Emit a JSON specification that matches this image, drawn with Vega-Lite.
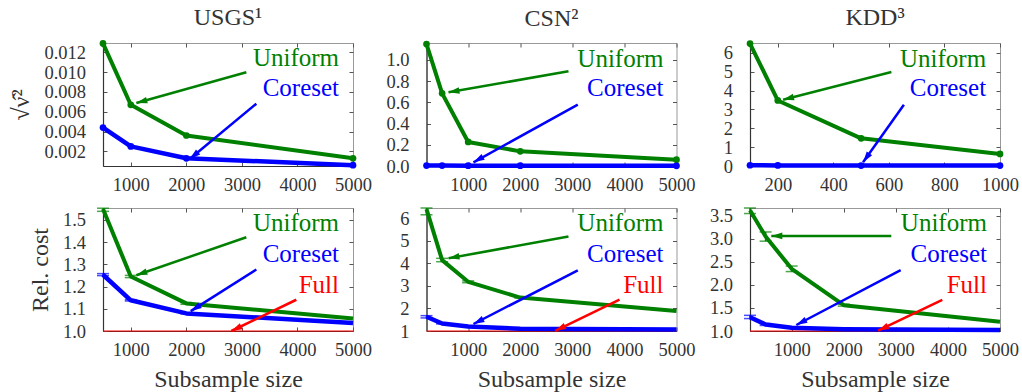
{
  "$schema": "https://vega.github.io/schema/vega-lite/v6.json",
  "padding": {"left": 9, "top": 5, "right": 5, "bottom": 0},
  "background": "white",
  "config": {
    "font": "Liberation Serif",
    "view": {"stroke": "#999", "strokeWidth": 1},
    "axis": {"labelFont": "Liberation Serif", "labelFontSize": 18.5, "labelColor": "#333", "labelOverlap": false, "labelFlush": false, "titleFont": "Liberation Serif", "titleFontSize": 24, "titleFontWeight": "normal", "titleColor": "#333", "tickSize": -4, "tickColor": "#555", "grid": false, "domainColor": "#333", "domainWidth": 1.2},
    "axisX": {"labelPadding": 13.5, "titlePadding": 8},
    "axisY": {"labelPadding": 21.5, "titlePadding": 10},
    "title": {"font": "Liberation Serif", "fontSize": 24, "fontWeight": "normal", "color": "#333", "offset": 10},
    "text": {"font": "Liberation Serif"}
  },
  "datasets": {
    "curves": [
      {"p": 1, "m": "Uniform", "n": 500, "v": 0.0129}, {"p": 1, "m": "Uniform", "n": 1000, "v": 0.0067}, {"p": 1, "m": "Uniform", "n": 2000, "v": 0.0036}, {"p": 1, "m": "Uniform", "n": 5000, "v": 0.0013},
      {"p": 1, "m": "Coreset", "n": 500, "v": 0.0044}, {"p": 1, "m": "Coreset", "n": 1000, "v": 0.0025}, {"p": 1, "m": "Coreset", "n": 2000, "v": 0.0013}, {"p": 1, "m": "Coreset", "n": 5000, "v": 0.0006},
      {"p": 2, "m": "Uniform", "n": 200, "v": 1.15}, {"p": 2, "m": "Uniform", "n": 500, "v": 0.685}, {"p": 2, "m": "Uniform", "n": 1000, "v": 0.227}, {"p": 2, "m": "Uniform", "n": 2000, "v": 0.138}, {"p": 2, "m": "Uniform", "n": 5000, "v": 0.06},
      {"p": 2, "m": "Coreset", "n": 200, "v": 0.004}, {"p": 2, "m": "Coreset", "n": 500, "v": 0.004}, {"p": 2, "m": "Coreset", "n": 1000, "v": 0.003}, {"p": 2, "m": "Coreset", "n": 2000, "v": 0.003}, {"p": 2, "m": "Coreset", "n": 5000, "v": 0.002},
      {"p": 3, "m": "Uniform", "n": 100, "v": 6.5}, {"p": 3, "m": "Uniform", "n": 200, "v": 3.48}, {"p": 3, "m": "Uniform", "n": 500, "v": 1.47}, {"p": 3, "m": "Uniform", "n": 1000, "v": 0.64},
      {"p": 3, "m": "Coreset", "n": 100, "v": 0.04}, {"p": 3, "m": "Coreset", "n": 200, "v": 0.03}, {"p": 3, "m": "Coreset", "n": 500, "v": 0.02}, {"p": 3, "m": "Coreset", "n": 1000, "v": 0.02},
      {"p": 4, "m": "Full", "n": 500, "v": 1.0}, {"p": 4, "m": "Full", "n": 5000, "v": 1.0},
      {"p": 4, "m": "Uniform", "n": 500, "v": 1.548}, {"p": 4, "m": "Uniform", "n": 1000, "v": 1.245}, {"p": 4, "m": "Uniform", "n": 2000, "v": 1.124}, {"p": 4, "m": "Uniform", "n": 5000, "v": 1.056},
      {"p": 4, "m": "Coreset", "n": 500, "v": 1.253}, {"p": 4, "m": "Coreset", "n": 1000, "v": 1.138}, {"p": 4, "m": "Coreset", "n": 2000, "v": 1.079}, {"p": 4, "m": "Coreset", "n": 5000, "v": 1.036},
      {"p": 5, "m": "Full", "n": 200, "v": 1.0}, {"p": 5, "m": "Full", "n": 5000, "v": 1.0},
      {"p": 5, "m": "Uniform", "n": 200, "v": 6.4}, {"p": 5, "m": "Uniform", "n": 500, "v": 4.14}, {"p": 5, "m": "Uniform", "n": 1000, "v": 3.18}, {"p": 5, "m": "Uniform", "n": 2000, "v": 2.48}, {"p": 5, "m": "Uniform", "n": 5000, "v": 1.89},
      {"p": 5, "m": "Coreset", "n": 200, "v": 1.63}, {"p": 5, "m": "Coreset", "n": 500, "v": 1.33}, {"p": 5, "m": "Coreset", "n": 1000, "v": 1.2}, {"p": 5, "m": "Coreset", "n": 2000, "v": 1.1}, {"p": 5, "m": "Coreset", "n": 5000, "v": 1.07},
      {"p": 6, "m": "Full", "n": 200, "v": 1.0}, {"p": 6, "m": "Full", "n": 5000, "v": 1.0},
      {"p": 6, "m": "Uniform", "n": 200, "v": 3.62}, {"p": 6, "m": "Uniform", "n": 500, "v": 3.05}, {"p": 6, "m": "Uniform", "n": 1000, "v": 2.35}, {"p": 6, "m": "Uniform", "n": 2000, "v": 1.56}, {"p": 6, "m": "Uniform", "n": 5000, "v": 1.2},
      {"p": 6, "m": "Coreset", "n": 200, "v": 1.3}, {"p": 6, "m": "Coreset", "n": 500, "v": 1.14}, {"p": 6, "m": "Coreset", "n": 1000, "v": 1.07}, {"p": 6, "m": "Coreset", "n": 2000, "v": 1.04}, {"p": 6, "m": "Coreset", "n": 5000, "v": 1.02}
    ],
    "bars": [
      {"p": 4, "m": "Uniform", "n": 500, "lo": 1.538, "hi": 1.552}, {"p": 4, "m": "Uniform", "n": 1000, "lo": 1.24, "hi": 1.25}, {"p": 4, "m": "Uniform", "n": 2000, "lo": 1.12, "hi": 1.128},
      {"p": 4, "m": "Coreset", "n": 500, "lo": 1.249, "hi": 1.258}, {"p": 4, "m": "Coreset", "n": 1000, "lo": 1.135, "hi": 1.141}, {"p": 4, "m": "Coreset", "n": 2000, "lo": 1.077, "hi": 1.081},
      {"p": 5, "m": "Uniform", "n": 200, "lo": 6.15, "hi": 6.45}, {"p": 5, "m": "Uniform", "n": 500, "lo": 4.07, "hi": 4.22}, {"p": 5, "m": "Uniform", "n": 1000, "lo": 3.14, "hi": 3.22}, {"p": 5, "m": "Uniform", "n": 2000, "lo": 2.46, "hi": 2.5},
      {"p": 5, "m": "Coreset", "n": 200, "lo": 1.58, "hi": 1.68}, {"p": 5, "m": "Coreset", "n": 500, "lo": 1.31, "hi": 1.36},
      {"p": 6, "m": "Uniform", "n": 200, "lo": 3.55, "hi": 3.67}, {"p": 6, "m": "Uniform", "n": 500, "lo": 2.95, "hi": 3.15}, {"p": 6, "m": "Uniform", "n": 1000, "lo": 2.29, "hi": 2.41}, {"p": 6, "m": "Uniform", "n": 2000, "lo": 1.54, "hi": 1.58},
      {"p": 6, "m": "Coreset", "n": 200, "lo": 1.27, "hi": 1.34}, {"p": 6, "m": "Coreset", "n": 500, "lo": 1.12, "hi": 1.16}
    ],
    "notes": [
      {"p": 1, "m": "Uniform", "label": "Uniform", "tx": 4748, "ty": 0.01057, "x1": 3080, "y1": 0.00998, "x2": 1100, "y2": 0.00688},
      {"p": 1, "m": "Coreset", "label": "Coreset", "tx": 4748, "ty": 0.00754, "x1": 3260, "y1": 0.00681, "x2": 2060, "y2": 0.00123},
      {"p": 2, "m": "Uniform", "label": "Uniform", "tx": 4750, "ty": 0.938, "x1": 2926, "y1": 0.893, "x2": 622, "y2": 0.695},
      {"p": 2, "m": "Coreset", "label": "Coreset", "tx": 4750, "ty": 0.6555, "x1": 3105, "y1": 0.578, "x2": 1102, "y2": 0.035},
      {"p": 3, "m": "Uniform", "label": "Uniform", "tx": 950, "ty": 5.282, "x1": 609, "y1": 4.99, "x2": 219, "y2": 3.52},
      {"p": 3, "m": "Coreset", "label": "Coreset", "tx": 950, "ty": 3.69, "x1": 654, "y1": 3.25, "x2": 507, "y2": 0.196},
      {"p": 4, "m": "Uniform", "label": "Uniform", "tx": 4748, "ty": 1.4487, "x1": 3080, "y1": 1.4216, "x2": 1100, "y2": 1.2507},
      {"p": 4, "m": "Coreset", "label": "Coreset", "tx": 4748, "ty": 1.3082, "x1": 3260, "y1": 1.2765, "x2": 2079, "y2": 1.0893},
      {"p": 4, "m": "Full", "label": "Full", "tx": 4748, "ty": 1.17, "x1": 3980, "y1": 1.1405, "x2": 2810, "y2": 1.0},
      {"p": 5, "m": "Uniform", "label": "Uniform", "tx": 4750, "ty": 5.423, "x1": 2926, "y1": 5.19, "x2": 622, "y2": 4.22},
      {"p": 5, "m": "Coreset", "label": "Coreset", "tx": 4750, "ty": 4.038, "x1": 3105, "y1": 3.69, "x2": 1102, "y2": 1.31},
      {"p": 5, "m": "Full", "label": "Full", "tx": 4750, "ty": 2.675, "x1": 3906, "y1": 2.385, "x2": 2671, "y2": 1.01},
      {"p": 6, "m": "Uniform", "label": "Uniform", "tx": 4750, "ty": 3.167, "x1": 2913, "y1": 3.064, "x2": 609, "y2": 3.064},
      {"p": 6, "m": "Coreset", "label": "Coreset", "tx": 4750, "ty": 2.488, "x1": 3093, "y1": 2.32, "x2": 1089, "y2": 1.13},
      {"p": 6, "m": "Full", "label": "Full", "tx": 4750, "ty": 1.821, "x1": 3892, "y1": 1.678, "x2": 2658, "y2": 1.007}
    ]
  },
  "columns": 3,
  "bounds": "flush",
  "spacing": {"row": 42, "column": 73.5},
  "concat": [
    {
      "width": 250, "height": 123,
      "title": "USGS¹",
      "layer": [
        {"data": {"name": "curves"}, "transform": [{"filter": "datum.p == 1"}],
         "mark": {"type": "line", "strokeJoin": "round"},
         "encoding": {
           "x": {"field": "n", "type": "quantitative", "scale": {"domain": [500, 5000], "nice": false, "zero": false}, "axis": {"orient": "bottom", "values": [1000, 2000, 3000, 4000, 5000], "format": "d", "title": null}},
           "y": {"field": "v", "type": "quantitative", "scale": {"domain": [0.00052, 0.01294], "nice": false, "zero": false}, "axis": {"orient": "left", "values": [0.002, 0.004, 0.006, 0.008, 0.010, 0.012], "format": ".3f", "title": "√ν̂²"}},
           "color": {"field": "m", "type": "nominal", "scale": {"domain": ["Uniform", "Coreset", "Full"], "range": ["#008000", "#0000ff", "#ff0000"]}, "legend": null},
           "strokeWidth": {"field": "m", "type": "nominal", "scale": {"type": "ordinal", "domain": ["Uniform", "Coreset", "Full"], "range": [4, 4.5, 1]}, "legend": null}
         }},
        {"data": {"name": "curves"}, "transform": [{"filter": "datum.p == 1"}],
         "mark": {"type": "point", "filled": true, "size": 45, "opacity": 1},
         "encoding": {
           "x": {"field": "n", "type": "quantitative", "axis": null},
           "y": {"field": "v", "type": "quantitative", "axis": null},
           "color": {"field": "m", "type": "nominal", "legend": null}
         }},
        {"data": {"name": "notes"}, "transform": [{"filter": "datum.p == 1"}],
         "mark": {"type": "rule", "strokeWidth": 2.5},
         "encoding": {
           "x": {"field": "x1", "type": "quantitative", "axis": null}, "x2": {"field": "x2"},
           "y": {"field": "y1", "type": "quantitative", "axis": null}, "y2": {"field": "y2"},
           "color": {"field": "m", "type": "nominal", "legend": null}
         }},
        {"data": {"name": "notes"}, "transform": [{"filter": "datum.p == 1 && datum.m == 'Uniform'"}],
         "mark": {"type": "point", "shape": "M0,0L-0.6,2L0.6,2Z", "filled": true, "size": 121, "opacity": 1, "angle": 254.4},
         "encoding": {"x": {"field": "x2", "type": "quantitative", "axis": null}, "y": {"field": "y2", "type": "quantitative", "axis": null}, "color": {"field": "m", "type": "nominal", "legend": null}}},
        {"data": {"name": "notes"}, "transform": [{"filter": "datum.p == 1 && datum.m == 'Coreset'"}],
         "mark": {"type": "point", "shape": "M0,0L-0.6,2L0.6,2Z", "filled": true, "size": 121, "opacity": 1, "angle": 230.3},
         "encoding": {"x": {"field": "x2", "type": "quantitative", "axis": null}, "y": {"field": "y2", "type": "quantitative", "axis": null}, "color": {"field": "m", "type": "nominal", "legend": null}}},
        {"data": {"name": "notes"}, "transform": [{"filter": "datum.p == 1"}],
         "mark": {"type": "text", "align": "right", "baseline": "alphabetic", "fontSize": 25},
         "encoding": {
           "x": {"field": "tx", "type": "quantitative", "axis": {"orient": "top", "labels": false, "domain": false, "title": null, "values": [1000, 2000, 3000, 4000, 5000]}},
           "y": {"field": "ty", "type": "quantitative", "axis": {"orient": "right", "labels": false, "domain": false, "title": null, "values": [0.002, 0.004, 0.006, 0.008, 0.010, 0.012]}},
           "text": {"field": "label"},
           "color": {"field": "m", "type": "nominal", "legend": null}
         }}
      ]
    },
    {
      "width": 250, "height": 123,
      "title": "CSN²",
      "layer": [
        {"data": {"name": "curves"}, "transform": [{"filter": "datum.p == 2"}],
         "mark": {"type": "line", "strokeJoin": "round"},
         "encoding": {
           "x": {"field": "n", "type": "quantitative", "scale": {"domain": [200, 5000], "nice": false, "zero": false}, "axis": {"orient": "bottom", "values": [1000, 2000, 3000, 4000, 5000], "format": "d", "title": null}},
           "y": {"field": "v", "type": "quantitative", "scale": {"domain": [0, 1.16], "nice": false, "zero": false}, "axis": {"orient": "left", "values": [0, 0.2, 0.4, 0.6, 0.8, 1.0], "format": ".1f", "title": null}},
           "color": {"field": "m", "type": "nominal", "scale": {"domain": ["Uniform", "Coreset", "Full"], "range": ["#008000", "#0000ff", "#ff0000"]}, "legend": null},
           "strokeWidth": {"field": "m", "type": "nominal", "scale": {"type": "ordinal", "domain": ["Uniform", "Coreset", "Full"], "range": [4, 4.5, 1]}, "legend": null}
         }},
        {"data": {"name": "curves"}, "transform": [{"filter": "datum.p == 2"}],
         "mark": {"type": "point", "filled": true, "size": 45, "opacity": 1},
         "encoding": {
           "x": {"field": "n", "type": "quantitative", "axis": null},
           "y": {"field": "v", "type": "quantitative", "axis": null},
           "color": {"field": "m", "type": "nominal", "legend": null}
         }},
        {"data": {"name": "notes"}, "transform": [{"filter": "datum.p == 2"}],
         "mark": {"type": "rule", "strokeWidth": 2.5},
         "encoding": {
           "x": {"field": "x1", "type": "quantitative", "axis": null}, "x2": {"field": "x2"},
           "y": {"field": "y1", "type": "quantitative", "axis": null}, "y2": {"field": "y2"},
           "color": {"field": "m", "type": "nominal", "legend": null}
         }},
        {"data": {"name": "notes"}, "transform": [{"filter": "datum.p == 2 && datum.m == 'Uniform'"}],
         "mark": {"type": "point", "shape": "M0,0L-0.6,2L0.6,2Z", "filled": true, "size": 121, "opacity": 1, "angle": 260.1},
         "encoding": {"x": {"field": "x2", "type": "quantitative", "axis": null}, "y": {"field": "y2", "type": "quantitative", "axis": null}, "color": {"field": "m", "type": "nominal", "legend": null}}},
        {"data": {"name": "notes"}, "transform": [{"filter": "datum.p == 2 && datum.m == 'Coreset'"}],
         "mark": {"type": "point", "shape": "M0,0L-0.6,2L0.6,2Z", "filled": true, "size": 121, "opacity": 1, "angle": 241.1},
         "encoding": {"x": {"field": "x2", "type": "quantitative", "axis": null}, "y": {"field": "y2", "type": "quantitative", "axis": null}, "color": {"field": "m", "type": "nominal", "legend": null}}},
        {"data": {"name": "notes"}, "transform": [{"filter": "datum.p == 2"}],
         "mark": {"type": "text", "align": "right", "baseline": "alphabetic", "fontSize": 25},
         "encoding": {
           "x": {"field": "tx", "type": "quantitative", "axis": {"orient": "top", "labels": false, "domain": false, "title": null, "values": [1000, 2000, 3000, 4000, 5000]}},
           "y": {"field": "ty", "type": "quantitative", "axis": {"orient": "right", "labels": false, "domain": false, "title": null, "values": [0, 0.2, 0.4, 0.6, 0.8, 1.0]}},
           "text": {"field": "label"},
           "color": {"field": "m", "type": "nominal", "legend": null}
         }}
      ]
    },
    {
      "width": 250, "height": 123,
      "title": "KDD³",
      "layer": [
        {"data": {"name": "curves"}, "transform": [{"filter": "datum.p == 3"}],
         "mark": {"type": "line", "strokeJoin": "round"},
         "encoding": {
           "x": {"field": "n", "type": "quantitative", "scale": {"domain": [100, 1000], "nice": false, "zero": false}, "axis": {"orient": "bottom", "values": [200, 400, 600, 800, 1000], "format": "d", "title": null}},
           "y": {"field": "v", "type": "quantitative", "scale": {"domain": [0, 6.53], "nice": false, "zero": false}, "axis": {"orient": "left", "values": [0, 1, 2, 3, 4, 5, 6], "format": "d", "title": null}},
           "color": {"field": "m", "type": "nominal", "scale": {"domain": ["Uniform", "Coreset", "Full"], "range": ["#008000", "#0000ff", "#ff0000"]}, "legend": null},
           "strokeWidth": {"field": "m", "type": "nominal", "scale": {"type": "ordinal", "domain": ["Uniform", "Coreset", "Full"], "range": [4, 4.5, 1]}, "legend": null}
         }},
        {"data": {"name": "curves"}, "transform": [{"filter": "datum.p == 3"}],
         "mark": {"type": "point", "filled": true, "size": 45, "opacity": 1},
         "encoding": {
           "x": {"field": "n", "type": "quantitative", "axis": null},
           "y": {"field": "v", "type": "quantitative", "axis": null},
           "color": {"field": "m", "type": "nominal", "legend": null}
         }},
        {"data": {"name": "notes"}, "transform": [{"filter": "datum.p == 3"}],
         "mark": {"type": "rule", "strokeWidth": 2.5},
         "encoding": {
           "x": {"field": "x1", "type": "quantitative", "axis": null}, "x2": {"field": "x2"},
           "y": {"field": "y1", "type": "quantitative", "axis": null}, "y2": {"field": "y2"},
           "color": {"field": "m", "type": "nominal", "legend": null}
         }},
        {"data": {"name": "notes"}, "transform": [{"filter": "datum.p == 3 && datum.m == 'Uniform'"}],
         "mark": {"type": "point", "shape": "M0,0L-0.6,2L0.6,2Z", "filled": true, "size": 121, "opacity": 1, "angle": 255.7},
         "encoding": {"x": {"field": "x2", "type": "quantitative", "axis": null}, "y": {"field": "y2", "type": "quantitative", "axis": null}, "color": {"field": "m", "type": "nominal", "legend": null}}},
        {"data": {"name": "notes"}, "transform": [{"filter": "datum.p == 3 && datum.m == 'Coreset'"}],
         "mark": {"type": "point", "shape": "M0,0L-0.6,2L0.6,2Z", "filled": true, "size": 121, "opacity": 1, "angle": 215.4},
         "encoding": {"x": {"field": "x2", "type": "quantitative", "axis": null}, "y": {"field": "y2", "type": "quantitative", "axis": null}, "color": {"field": "m", "type": "nominal", "legend": null}}},
        {"data": {"name": "notes"}, "transform": [{"filter": "datum.p == 3"}],
         "mark": {"type": "text", "align": "right", "baseline": "alphabetic", "fontSize": 25},
         "encoding": {
           "x": {"field": "tx", "type": "quantitative", "axis": {"orient": "top", "labels": false, "domain": false, "title": null, "values": [200, 400, 600, 800, 1000]}},
           "y": {"field": "ty", "type": "quantitative", "axis": {"orient": "right", "labels": false, "domain": false, "title": null, "values": [0, 1, 2, 3, 4, 5, 6]}},
           "text": {"field": "label"},
           "color": {"field": "m", "type": "nominal", "legend": null}
         }}
      ]
    },
    {
      "width": 250, "height": 123,
      "layer": [
        {"data": {"name": "curves"}, "transform": [{"filter": "datum.p == 4"}],
         "mark": {"type": "line", "strokeJoin": "round"},
         "encoding": {
           "x": {"field": "n", "type": "quantitative", "scale": {"domain": [500, 5000], "nice": false, "zero": false}, "axis": {"orient": "bottom", "values": [1000, 2000, 3000, 4000, 5000], "format": "d", "title": "Subsample size"}},
           "y": {"field": "v", "type": "quantitative", "scale": {"domain": [1.0, 1.553], "nice": false, "zero": false}, "axis": {"orient": "left", "values": [1.0, 1.1, 1.2, 1.3, 1.4, 1.5], "format": ".1f", "title": "Rel.  cost"}},
           "color": {"field": "m", "type": "nominal", "scale": {"domain": ["Uniform", "Coreset", "Full"], "range": ["#008000", "#0000ff", "#ff0000"]}, "legend": null},
           "strokeWidth": {"field": "m", "type": "nominal", "scale": {"type": "ordinal", "domain": ["Uniform", "Coreset", "Full"], "range": [4, 5, 1]}, "legend": null}
         }},
        {"data": {"name": "bars"}, "transform": [{"filter": "datum.p == 4"}],
         "mark": {"type": "errorbar", "ticks": {"size": 12, "thickness": 1.5}, "thickness": 1.5},
         "encoding": {
           "x": {"field": "n", "type": "quantitative", "axis": null},
           "y": {"field": "lo", "type": "quantitative", "axis": null}, "y2": {"field": "hi"},
           "color": {"field": "m", "type": "nominal", "legend": null}
         }},
        {"data": {"name": "notes"}, "transform": [{"filter": "datum.p == 4"}],
         "mark": {"type": "rule", "strokeWidth": 2.5},
         "encoding": {
           "x": {"field": "x1", "type": "quantitative", "axis": null}, "x2": {"field": "x2"},
           "y": {"field": "y1", "type": "quantitative", "axis": null}, "y2": {"field": "y2"},
           "color": {"field": "m", "type": "nominal", "legend": null}
         }},
        {"data": {"name": "notes"}, "transform": [{"filter": "datum.p == 4 && datum.m == 'Uniform'"}],
         "mark": {"type": "point", "shape": "M0,0L-0.6,2L0.6,2Z", "filled": true, "size": 121, "opacity": 1, "angle": 251.1},
         "encoding": {"x": {"field": "x2", "type": "quantitative", "axis": null}, "y": {"field": "y2", "type": "quantitative", "axis": null}, "color": {"field": "m", "type": "nominal", "legend": null}}},
        {"data": {"name": "notes"}, "transform": [{"filter": "datum.p == 4 && datum.m == 'Coreset'"}],
         "mark": {"type": "point", "shape": "M0,0L-0.6,2L0.6,2Z", "filled": true, "size": 121, "opacity": 1, "angle": 237.8},
         "encoding": {"x": {"field": "x2", "type": "quantitative", "axis": null}, "y": {"field": "y2", "type": "quantitative", "axis": null}, "color": {"field": "m", "type": "nominal", "legend": null}}},
        {"data": {"name": "notes"}, "transform": [{"filter": "datum.p == 4 && datum.m == 'Full'"}],
         "mark": {"type": "point", "shape": "M0,0L-0.6,2L0.6,2Z", "filled": true, "size": 121, "opacity": 1, "angle": 244.3},
         "encoding": {"x": {"field": "x2", "type": "quantitative", "axis": null}, "y": {"field": "y2", "type": "quantitative", "axis": null}, "color": {"field": "m", "type": "nominal", "legend": null}}},
        {"data": {"name": "notes"}, "transform": [{"filter": "datum.p == 4"}],
         "mark": {"type": "text", "align": "right", "baseline": "alphabetic", "fontSize": 25},
         "encoding": {
           "x": {"field": "tx", "type": "quantitative", "axis": {"orient": "top", "labels": false, "domain": false, "title": null, "values": [1000, 2000, 3000, 4000, 5000]}},
           "y": {"field": "ty", "type": "quantitative", "axis": {"orient": "right", "labels": false, "domain": false, "title": null, "values": [1.0, 1.1, 1.2, 1.3, 1.4, 1.5]}},
           "text": {"field": "label"},
           "color": {"field": "m", "type": "nominal", "legend": null}
         }}
      ]
    },
    {
      "width": 250, "height": 123,
      "layer": [
        {"data": {"name": "curves"}, "transform": [{"filter": "datum.p == 5"}],
         "mark": {"type": "line", "strokeJoin": "round"},
         "encoding": {
           "x": {"field": "n", "type": "quantitative", "scale": {"domain": [200, 5000], "nice": false, "zero": false}, "axis": {"orient": "bottom", "values": [1000, 2000, 3000, 4000, 5000], "format": "d", "title": "Subsample size"}},
           "y": {"field": "v", "type": "quantitative", "scale": {"domain": [1.0, 6.45], "nice": false, "zero": false}, "axis": {"orient": "left", "values": [1, 2, 3, 4, 5, 6], "format": "d", "title": null}},
           "color": {"field": "m", "type": "nominal", "scale": {"domain": ["Uniform", "Coreset", "Full"], "range": ["#008000", "#0000ff", "#ff0000"]}, "legend": null},
           "strokeWidth": {"field": "m", "type": "nominal", "scale": {"type": "ordinal", "domain": ["Uniform", "Coreset", "Full"], "range": [4, 5, 1]}, "legend": null}
         }},
        {"data": {"name": "bars"}, "transform": [{"filter": "datum.p == 5"}],
         "mark": {"type": "errorbar", "ticks": {"size": 12, "thickness": 1.5}, "thickness": 1.5},
         "encoding": {
           "x": {"field": "n", "type": "quantitative", "axis": null},
           "y": {"field": "lo", "type": "quantitative", "axis": null}, "y2": {"field": "hi"},
           "color": {"field": "m", "type": "nominal", "legend": null}
         }},
        {"data": {"name": "notes"}, "transform": [{"filter": "datum.p == 5"}],
         "mark": {"type": "rule", "strokeWidth": 2.5},
         "encoding": {
           "x": {"field": "x1", "type": "quantitative", "axis": null}, "x2": {"field": "x2"},
           "y": {"field": "y1", "type": "quantitative", "axis": null}, "y2": {"field": "y2"},
           "color": {"field": "m", "type": "nominal", "legend": null}
         }},
        {"data": {"name": "notes"}, "transform": [{"filter": "datum.p == 5 && datum.m == 'Uniform'"}],
         "mark": {"type": "point", "shape": "M0,0L-0.6,2L0.6,2Z", "filled": true, "size": 121, "opacity": 1, "angle": 259.75},
         "encoding": {"x": {"field": "x2", "type": "quantitative", "axis": null}, "y": {"field": "y2", "type": "quantitative", "axis": null}, "color": {"field": "m", "type": "nominal", "legend": null}}},
        {"data": {"name": "notes"}, "transform": [{"filter": "datum.p == 5 && datum.m == 'Coreset'"}],
         "mark": {"type": "point", "shape": "M0,0L-0.6,2L0.6,2Z", "filled": true, "size": 121, "opacity": 1, "angle": 242.9},
         "encoding": {"x": {"field": "x2", "type": "quantitative", "axis": null}, "y": {"field": "y2", "type": "quantitative", "axis": null}, "color": {"field": "m", "type": "nominal", "legend": null}}},
        {"data": {"name": "notes"}, "transform": [{"filter": "datum.p == 5 && datum.m == 'Full'"}],
         "mark": {"type": "point", "shape": "M0,0L-0.6,2L0.6,2Z", "filled": true, "size": 121, "opacity": 1, "angle": 244.5},
         "encoding": {"x": {"field": "x2", "type": "quantitative", "axis": null}, "y": {"field": "y2", "type": "quantitative", "axis": null}, "color": {"field": "m", "type": "nominal", "legend": null}}},
        {"data": {"name": "notes"}, "transform": [{"filter": "datum.p == 5"}],
         "mark": {"type": "text", "align": "right", "baseline": "alphabetic", "fontSize": 25},
         "encoding": {
           "x": {"field": "tx", "type": "quantitative", "axis": {"orient": "top", "labels": false, "domain": false, "title": null, "values": [1000, 2000, 3000, 4000, 5000]}},
           "y": {"field": "ty", "type": "quantitative", "axis": {"orient": "right", "labels": false, "domain": false, "title": null, "values": [1, 2, 3, 4, 5, 6]}},
           "text": {"field": "label"},
           "color": {"field": "m", "type": "nominal", "legend": null}
         }}
      ]
    },
    {
      "width": 250, "height": 123,
      "layer": [
        {"data": {"name": "curves"}, "transform": [{"filter": "datum.p == 6"}],
         "mark": {"type": "line", "strokeJoin": "round"},
         "encoding": {
           "x": {"field": "n", "type": "quantitative", "scale": {"domain": [200, 5000], "nice": false, "zero": false}, "axis": {"orient": "bottom", "values": [1000, 2000, 3000, 4000, 5000], "format": "d", "title": "Subsample size"}},
           "y": {"field": "v", "type": "quantitative", "scale": {"domain": [1.0, 3.67], "nice": false, "zero": false}, "axis": {"orient": "left", "values": [1.0, 1.5, 2.0, 2.5, 3.0, 3.5], "format": ".1f", "title": null}},
           "color": {"field": "m", "type": "nominal", "scale": {"domain": ["Uniform", "Coreset", "Full"], "range": ["#008000", "#0000ff", "#ff0000"]}, "legend": null},
           "strokeWidth": {"field": "m", "type": "nominal", "scale": {"type": "ordinal", "domain": ["Uniform", "Coreset", "Full"], "range": [4, 5, 1]}, "legend": null}
         }},
        {"data": {"name": "bars"}, "transform": [{"filter": "datum.p == 6"}],
         "mark": {"type": "errorbar", "ticks": {"size": 12, "thickness": 1.5}, "thickness": 1.5},
         "encoding": {
           "x": {"field": "n", "type": "quantitative", "axis": null},
           "y": {"field": "lo", "type": "quantitative", "axis": null}, "y2": {"field": "hi"},
           "color": {"field": "m", "type": "nominal", "legend": null}
         }},
        {"data": {"name": "notes"}, "transform": [{"filter": "datum.p == 6"}],
         "mark": {"type": "rule", "strokeWidth": 2.5},
         "encoding": {
           "x": {"field": "x1", "type": "quantitative", "axis": null}, "x2": {"field": "x2"},
           "y": {"field": "y1", "type": "quantitative", "axis": null}, "y2": {"field": "y2"},
           "color": {"field": "m", "type": "nominal", "legend": null}
         }},
        {"data": {"name": "notes"}, "transform": [{"filter": "datum.p == 6 && datum.m == 'Uniform'"}],
         "mark": {"type": "point", "shape": "M0,0L-0.6,2L0.6,2Z", "filled": true, "size": 121, "opacity": 1, "angle": 270},
         "encoding": {"x": {"field": "x2", "type": "quantitative", "axis": null}, "y": {"field": "y2", "type": "quantitative", "axis": null}, "color": {"field": "m", "type": "nominal", "legend": null}}},
        {"data": {"name": "notes"}, "transform": [{"filter": "datum.p == 6 && datum.m == 'Coreset'"}],
         "mark": {"type": "point", "shape": "M0,0L-0.6,2L0.6,2Z", "filled": true, "size": 121, "opacity": 1, "angle": 242.5},
         "encoding": {"x": {"field": "x2", "type": "quantitative", "axis": null}, "y": {"field": "y2", "type": "quantitative", "axis": null}, "color": {"field": "m", "type": "nominal", "legend": null}}},
        {"data": {"name": "notes"}, "transform": [{"filter": "datum.p == 6 && datum.m == 'Full'"}],
         "mark": {"type": "point", "shape": "M0,0L-0.6,2L0.6,2Z", "filled": true, "size": 121, "opacity": 1, "angle": 244.5},
         "encoding": {"x": {"field": "x2", "type": "quantitative", "axis": null}, "y": {"field": "y2", "type": "quantitative", "axis": null}, "color": {"field": "m", "type": "nominal", "legend": null}}},
        {"data": {"name": "notes"}, "transform": [{"filter": "datum.p == 6"}],
         "mark": {"type": "text", "align": "right", "baseline": "alphabetic", "fontSize": 25},
         "encoding": {
           "x": {"field": "tx", "type": "quantitative", "axis": {"orient": "top", "labels": false, "domain": false, "title": null, "values": [1000, 2000, 3000, 4000, 5000]}},
           "y": {"field": "ty", "type": "quantitative", "axis": {"orient": "right", "labels": false, "domain": false, "title": null, "values": [1.0, 1.5, 2.0, 2.5, 3.0, 3.5]}},
           "text": {"field": "label"},
           "color": {"field": "m", "type": "nominal", "legend": null}
         }}
      ]
    }
  ]
}
